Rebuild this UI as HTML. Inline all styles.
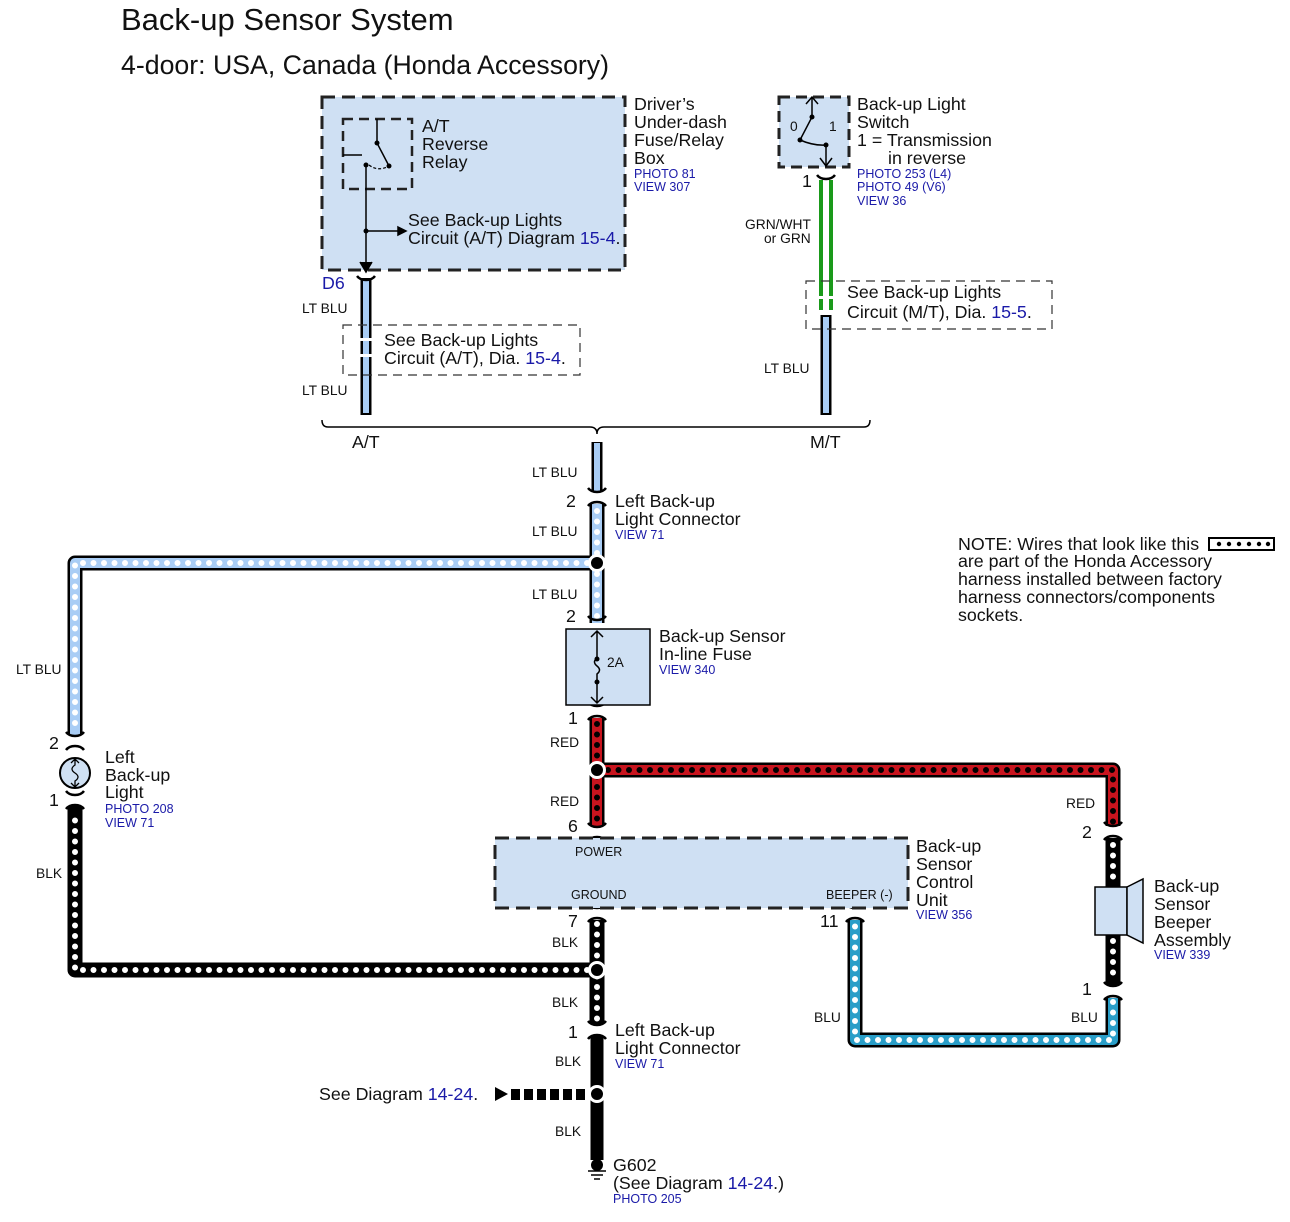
<!DOCTYPE html>
<html><head><meta charset="utf-8"><style>
html,body{margin:0;padding:0;background:#fff}
svg{display:block}
text{font-family:"Liberation Sans",Arial,sans-serif;fill:#111}
.b{fill:#1a1aa8}
.s{font-size:13.8px}
.m{font-size:17.8px}
.sm{font-size:12.5px}
</style></head><body>
<svg width="1290" height="1222" viewBox="0 0 1290 1222" xmlns="http://www.w3.org/2000/svg">
<defs>
<g id="con"><path d="M-9,-9 Q-6,-5 0,-5 Q6,-5 9,-9 M-9,9 Q-6,5 0,5 Q6,5 9,9" fill="none" stroke="#000" stroke-width="2.5"/></g>
</defs>
<text x="121" y="30" style="font-size:31px">Back-up Sensor System</text>
<text x="121" y="74" style="font-size:26.7px">4-door: USA, Canada (Honda Accessory)</text>

<!-- Fuse box -->
<rect x="322" y="97" width="303" height="173" fill="#cfe0f3" stroke="#222" stroke-width="3" stroke-dasharray="13,7"/>
<rect x="343" y="119" width="69" height="70" fill="none" stroke="#222" stroke-width="2.5" stroke-dasharray="10,6"/>
<path d="M377,119 V143 L389,166 M343,155 H362 M366,165 V268 M366,231 H398" fill="none" stroke="#000" stroke-width="1.5"/>
<path d="M369,165 Q378,172 389,166" fill="none" stroke="#000" stroke-width="1.2" stroke-dasharray="3,2"/>
<circle cx="377" cy="143" r="2.5"/><circle cx="389" cy="166" r="2.5"/><circle cx="366" cy="165" r="2.5"/><circle cx="366" cy="231" r="2.5"/>
<path d="M398,227 L406,231 L398,235 Z M360,262 L366,272 L372,262" fill="#000" stroke="#000" stroke-width="1.5"/>
<text class="m" x="422" y="132">A/T</text><text class="m" x="422" y="150">Reverse</text><text class="m" x="422" y="168">Relay</text>
<text class="m" x="408" y="226">See Back-up Lights</text>
<text class="m" x="408" y="244">Circuit (A/T) Diagram <tspan class="b">15-4</tspan>.</text>
<text class="m" x="634" y="110">Driver’s</text><text class="m" x="634" y="128">Under-dash</text><text class="m" x="634" y="146">Fuse/Relay</text><text class="m" x="634" y="164">Box</text>
<text class="sm b" x="634" y="178">PHOTO 81</text><text class="sm b" x="634" y="191">VIEW 307</text>
<text class="m b" x="322" y="289">D6</text>

<!-- A/T wire -->
<path d="M366,278 V415" stroke="#000" stroke-width="11"/><path d="M366,280 V413" stroke="#a9cdf5" stroke-width="6"/>
<path d="M357,276 Q360,280 366,280 Q372,280 375,276" fill="none" stroke="#000" stroke-width="2.5"/>
<rect x="343" y="325" width="237" height="50" fill="none" stroke="#333" stroke-width="1.2" stroke-dasharray="9,6"/>
<rect x="358" y="338" width="16" height="3" fill="#fff"/><rect x="358" y="354" width="16" height="3" fill="#fff"/>
<text class="m" x="384" y="346">See Back-up Lights</text>
<text class="m" x="384" y="364">Circuit (A/T), Dia. <tspan class="b">15-4</tspan>.</text>
<text class="s" x="302" y="313">LT BLU</text><text class="s" x="302" y="395">LT BLU</text>

<!-- Switch -->
<rect x="779" y="97" width="70" height="70" fill="#cfe0f3" stroke="#222" stroke-width="3" stroke-dasharray="11,6"/>
<path d="M812,97 V117 L800,140 M826,145 V166 M800,140 Q814,146 826,145" fill="none" stroke="#000" stroke-width="1.5"/>
<path d="M806,104 L812,97 L818,104 M820,158 L826,166 L832,158" fill="none" stroke="#000" stroke-width="1.5"/>
<circle cx="812" cy="117" r="2.5"/><circle cx="800" cy="140" r="2.5"/><circle cx="826" cy="145" r="2.5"/>
<text class="s" x="790" y="131">0</text><text class="s" x="829" y="131">1</text>
<text class="m" x="857" y="110">Back-up Light</text><text class="m" x="857" y="128">Switch</text><text class="m" x="857" y="146">1 = Transmission</text><text class="m" x="888" y="164">in reverse</text>
<text class="sm b" x="857" y="178">PHOTO 253 (L4)</text><text class="sm b" x="857" y="191">PHOTO 49 (V6)</text><text class="sm b" x="857" y="205">VIEW 36</text>
<text class="m" x="802" y="187">1</text>
<path d="M821,180 V310 M831,180 V310" stroke="#1a9a1a" stroke-width="4"/>
<path d="M817,175 Q820,179 826,179 Q832,179 835,175" fill="none" stroke="#000" stroke-width="2.5"/>
<path d="M826,315 V415" stroke="#000" stroke-width="11"/><path d="M826,317 V413" stroke="#a9cdf5" stroke-width="6"/>
<rect x="806" y="281" width="246" height="48" fill="none" stroke="#333" stroke-width="1.2" stroke-dasharray="9,6"/>
<rect x="818" y="296" width="16" height="3" fill="#fff"/><rect x="818" y="312" width="16" height="3" fill="#fff"/>
<text class="m" x="847" y="298">See Back-up Lights</text>
<text class="m" x="847" y="318">Circuit (M/T), Dia. <tspan class="b">15-5</tspan>.</text>
<text class="s" x="745" y="229">GRN/WHT</text><text class="s" x="764" y="243">or GRN</text>
<text class="s" x="764" y="373">LT BLU</text>

<!-- bracket -->
<path d="M322,420 Q322,427 328,427 H590 Q597,427 597,434 Q597,427 604,427 H864 Q870,427 870,420" fill="none" stroke="#000" stroke-width="1.5"/>
<text class="m" x="352" y="448">A/T</text><text class="m" x="810" y="448">M/T</text>

<path d="M597,442 V492" stroke="#000" stroke-width="11"/><path d="M597,443 V491" stroke="#a9cdf5" stroke-width="6"/>
<text class="s" x="532" y="477">LT BLU</text>

<!-- dotted wires -->
<g fill="none" stroke-linejoin="round">
<path d="M597,504 V623 M597,563 H75 V735" stroke="#000" stroke-width="15"/>
<path d="M597,504 V623 M597,563 H75 V735" stroke="#a9cdf5" stroke-width="10"/>
<path d="M597,511 V620 M587,563 H75 V733" stroke="#fff" stroke-width="6" stroke-linecap="round" stroke-dasharray="0,10.5"/>

<path d="M597,718 V826 M597,770 H1113 V826" stroke="#000" stroke-width="15"/>
<path d="M597,718 V826 M597,770 H1113 V826" stroke="#c8141e" stroke-width="10"/>
<path d="M597,724 V822 M608,770 H1113 V822" stroke="#000" stroke-width="6" stroke-linecap="round" stroke-dasharray="0,10.5"/>

<path d="M1113,838 V887 M1113,935 V985" stroke="#000" stroke-width="15"/>
<path d="M1113,845 V885 M1113,941 V983" stroke="#fff" stroke-width="6" stroke-linecap="round" stroke-dasharray="0,10.5"/>

<path d="M1113,998 V1040 H855 V920" stroke="#000" stroke-width="15"/>
<path d="M1113,998 V1040 H855 V920" stroke="#2a9ec8" stroke-width="10"/>
<path d="M1113,1002 V1040 H855 V924" stroke="#fff" stroke-width="6" stroke-linecap="round" stroke-dasharray="0,10.5"/>

<path d="M597,920 V1024 M597,970 H75 V806" stroke="#000" stroke-width="15"/>
<path d="M597,924 V1022 M587,970 H75 V810" stroke="#fff" stroke-width="6" stroke-linecap="round" stroke-dasharray="0,10.5"/>
</g>
<path d="M597,1036 V1160" stroke="#000" stroke-width="13"/>

<use href="#con" x="597" y="497"/><use href="#con" x="597" y="625"/>
<use href="#con" x="597" y="711"/><use href="#con" x="597" y="832"/>
<use href="#con" x="597" y="913"/><use href="#con" x="597" y="1030"/>
<use href="#con" x="855" y="913"/><use href="#con" x="1113" y="831"/><use href="#con" x="1113" y="991"/>
<use href="#con" x="75" y="741"/><use href="#con" x="75" y="800"/>

<g stroke="#fff" stroke-width="3"><circle cx="597" cy="563" r="7.5"/><circle cx="597" cy="770" r="7.5"/><circle cx="597" cy="970" r="7.5"/><circle cx="597" cy="1094" r="7.5"/></g>

<text class="m" x="566" y="507">2</text>
<text class="m" x="615" y="507">Left Back-up</text><text class="m" x="615" y="525">Light Connector</text><text class="sm b" x="615" y="539">VIEW 71</text>
<text class="s" x="532" y="536">LT BLU</text><text class="s" x="532" y="599">LT BLU</text>
<text class="m" x="566" y="622">2</text>
<rect x="566" y="629" width="84" height="76" fill="#cfe0f3" stroke="#000" stroke-width="1.5"/>
<path d="M597,631 V658 Q592,662 597,666 Q602,670 597,674 V703 M591,637 L597,631 L603,637 M591,697 L597,703 L603,697" fill="none" stroke="#000" stroke-width="1.5"/>
<circle cx="597" cy="659" r="2.5"/><circle cx="597" cy="682" r="2.5"/>
<text class="s" x="607" y="667">2A</text>
<text class="m" x="659" y="642">Back-up Sensor</text><text class="m" x="659" y="660">In-line Fuse</text><text class="sm b" x="659" y="674">VIEW 340</text>
<text class="m" x="568" y="724">1</text>
<text class="s" x="550" y="747">RED</text><text class="s" x="550" y="806">RED</text>
<text class="m" x="568" y="832">6</text>

<rect x="495" y="838" width="413" height="70" fill="#cfe0f3" stroke="#222" stroke-width="3" stroke-dasharray="14,7"/>
<text class="sm" x="575" y="856">POWER</text><text class="sm" x="571" y="899">GROUND</text><text class="sm" x="826" y="899">BEEPER (-)</text>
<text class="m" x="916" y="852">Back-up</text><text class="m" x="916" y="870">Sensor</text><text class="m" x="916" y="888">Control</text><text class="m" x="916" y="906">Unit</text><text class="sm b" x="916" y="919">VIEW 356</text>
<text class="m" x="568" y="927">7</text><text class="m" x="820" y="927">11</text>
<text class="s" x="552" y="947">BLK</text><text class="s" x="552" y="1007">BLK</text>
<text class="m" x="568" y="1038">1</text>
<text class="m" x="615" y="1036">Left Back-up</text><text class="m" x="615" y="1054">Light Connector</text><text class="sm b" x="615" y="1068">VIEW 71</text>
<text class="s" x="555" y="1066">BLK</text><text class="s" x="555" y="1136">BLK</text>
<path d="M495,1087 L508,1094 L495,1101 Z"/>
<g><rect x="511" y="1089" width="9" height="11"/><rect x="524" y="1089" width="9" height="11"/><rect x="537" y="1089" width="9" height="11"/><rect x="550" y="1089" width="9" height="11"/><rect x="563" y="1089" width="9" height="11"/><rect x="576" y="1089" width="9" height="11"/></g>
<text class="m" x="319" y="1100">See Diagram <tspan class="b">14-24</tspan>.</text>
<circle cx="597" cy="1165" r="6"/>
<path d="M588,1171 H606 M591,1175 H603 M594,1179 H600" stroke="#000" stroke-width="1.5"/>
<text class="m" x="613" y="1171">G602</text>
<text class="m" x="613" y="1189">(See Diagram <tspan class="b">14-24</tspan>.)</text>
<text class="sm b" x="613" y="1203">PHOTO 205</text>

<circle cx="75" cy="773" r="15" fill="#cfe0f3" stroke="#000" stroke-width="2"/>
<path d="M75,759 V765 Q69,769 75,773 Q81,777 75,781 V787 M71,763 L75,759 L79,763 M71,783 L75,787 L79,783" fill="none" stroke="#000" stroke-width="1.3"/>
<text class="m" x="49" y="749">2</text><text class="m" x="49" y="806">1</text>
<text class="m" x="105" y="763">Left</text><text class="m" x="105" y="781">Back-up</text><text class="m" x="105" y="798">Light</text>
<text class="sm b" x="105" y="813">PHOTO 208</text><text class="sm b" x="105" y="827">VIEW 71</text>
<text class="s" x="16" y="674">LT BLU</text><text class="s" x="36" y="878">BLK</text>

<rect x="1095" y="887" width="32" height="48" fill="#cfe0f3" stroke="#000" stroke-width="1.5"/>
<path d="M1127,887 L1143,879 V943 L1127,935 Z" fill="#cfe0f3" stroke="#000" stroke-width="1.5"/>
<text class="m" x="1154" y="892">Back-up</text><text class="m" x="1154" y="910">Sensor</text><text class="m" x="1154" y="928">Beeper</text><text class="m" x="1154" y="946">Assembly</text><text class="sm b" x="1154" y="959">VIEW 339</text>
<text class="s" x="1066" y="808">RED</text><text class="m" x="1082" y="838">2</text>
<text class="m" x="1082" y="995">1</text><text class="s" x="1071" y="1022">BLU</text><text class="s" x="814" y="1022">BLU</text>

<text class="m" x="958" y="550">NOTE: Wires that look like this</text>
<rect x="1209" y="538" width="65" height="12" fill="#fff" stroke="#000" stroke-width="2"/>
<g><circle cx="1219" cy="544" r="2.2"/><circle cx="1229" cy="544" r="2.2"/><circle cx="1239" cy="544" r="2.2"/><circle cx="1249" cy="544" r="2.2"/><circle cx="1259" cy="544" r="2.2"/><circle cx="1268" cy="544" r="2.2"/></g>
<text class="m" x="958" y="567">are part of the Honda Accessory</text>
<text class="m" x="958" y="585">harness installed between factory</text>
<text class="m" x="958" y="603">harness connectors/components</text>
<text class="m" x="958" y="621">sockets.</text>
</svg>
</body></html>
